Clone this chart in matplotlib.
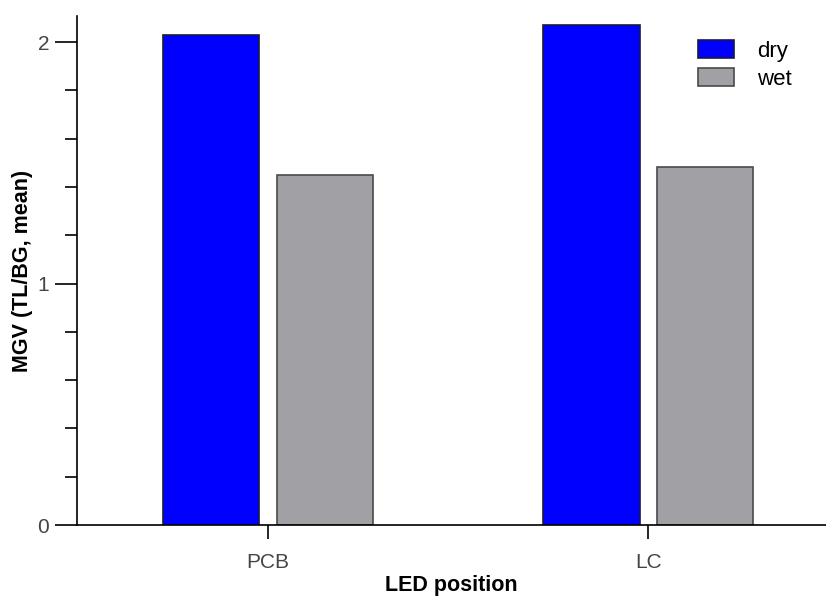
import matplotlib
matplotlib.use("Agg")
from matplotlib import pyplot as plt
from matplotlib.ticker import MultipleLocator
import numpy as np

plt.rcParams['font.family'] = ['Liberation Sans', 'DejaVu Sans']

positions = ['PCB', 'LC']
dry = [2.03, 2.07]
wet = [1.45, 1.485]

fig = plt.figure(figsize=(8.26, 5.96), dpi=100)
ax = fig.add_axes([0.093, 0.119, 0.907, 0.854])

x = np.arange(len(positions))
w = 0.253
off = 0.149
ax.bar(x - off, dry, w, color='#0000ff', edgecolor='#1a1a40', linewidth=1.2, label='dry')
ax.bar(x + off, wet, w, color='#a1a0a4', edgecolor='#4a4a4a', linewidth=1.2, label='wet')

ax.set_xlim(-0.503, 1.468)
ax.set_ylim(0, 2.108)
ax.set_xticks(x)
ax.set_xticklabels(positions)
ax.set_yticks([0, 1, 2])
ax.yaxis.set_minor_locator(MultipleLocator(0.2))

for s in ['top', 'right']:
    ax.spines[s].set_visible(False)
for s in ['left', 'bottom']:
    ax.spines[s].set_linewidth(1.2)

ax.tick_params(axis='y', which='major', length=16, width=1.2, labelsize=15, labelcolor='#444444', pad=4)
ax.tick_params(axis='y', which='minor', length=9, width=1.2)
ax.tick_params(axis='x', which='major', length=10, width=1.2, labelsize=15, labelcolor='#444444', pad=10)

ax.set_xlabel('LED position', fontsize=15.5, fontweight='bold', labelpad=2)
ax.set_ylabel('MGV (TL/BG, mean)', fontsize=15.5, fontweight='bold', labelpad=3)

ax.legend(loc='upper right', frameon=False, fontsize=16, handlelength=1.6, handleheight=0.85,
          handletextpad=1.05, labelspacing=0.3, bbox_to_anchor=(0.981, 0.992))

plt.savefig('out.png', dpi=100)
